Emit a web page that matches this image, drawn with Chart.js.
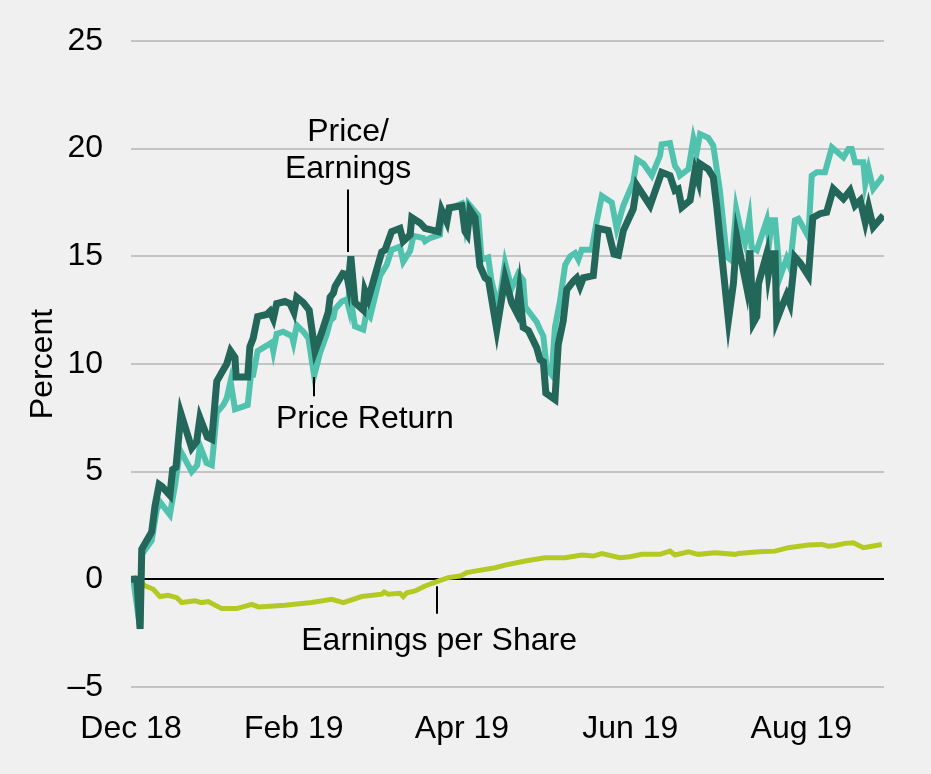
<!DOCTYPE html>
<html>
<head>
<meta charset="utf-8">
<script src="https://cdn.jsdelivr.net/npm/chart.js"></script>
<style>
  html, body { margin: 0; padding: 0; background: #f0f0f0; overflow: hidden; }
</style>
</head>
<body>
<canvas id="chart" width="931" height="774"></canvas>
<script>
// x values are calendar days since 31 Dec 2018
const peDays = [0, 2.1, 3.3, 3.9, 5.7, 7.5, 8.7, 10.2, 11.3, 14.1, 15.1, 16.3, 18.1, 22.0, 23.8, 25.0, 27.7, 29.3, 31.1, 32.9, 34.7, 36.1, 37.7, 38.1, 42.3, 43.1, 44.3, 45.9, 49.2, 50.4, 51.6, 52.8, 55.8, 57.7, 59.1, 60.1, 62.5, 64.6, 66.7, 69.1, 71.5, 72.2, 73.4, 74.0, 76.8, 78.2, 78.8, 79.7, 81.2, 84.2, 84.8, 86.0, 89.1, 90.9, 92.1, 94.5, 97.5, 98.7, 101.2, 101.8, 104.8, 106.6, 111.4, 112.6, 114.5, 115.4, 119.9, 121.1, 121.9, 122.9, 124.7, 126.5, 128.4, 129.6, 132.6, 135.6, 138.0, 139.8, 140.8, 142.2, 144.1, 147.1, 148.3, 149.5, 150.4, 153.7, 154.9, 156.7, 158.0, 160.4, 161.6, 162.8, 164.0, 167.6, 169.4, 173.0, 175.1, 176.7, 178.5, 182.1, 183.4, 188.2, 192.4, 195.4, 197.2, 198.4, 199.7, 202.7, 204.5, 205.7, 206.3, 209.3, 211.1, 212.4, 216.6, 218.4, 219.6, 223.2, 224.4, 225.6, 226.9, 227.5, 230.5, 231.1, 232.3, 233.5, 234.1, 235.9, 237.7, 238.9, 240.7, 242.6, 245.6, 247.2, 249.8, 252.2, 254.6, 258.3, 260.7, 262.5, 264.4, 266.2, 267.4, 269.1, 272.8];
const peValues = [0, 0, -2.3, 1.4, 1.8, 2.2, 3.4, 4.4, 4.3, 3.9, 5.1, 5.2, 7.7, 6.1, 6.4, 7.5, 6.6, 6.5, 9.2, 9.6, 10.0, 10.6, 10.3, 9.4, 9.4, 10.8, 11.2, 12.2, 12.3, 12.45, 12.1, 12.8, 12.9, 12.8, 12.4, 13.1, 12.85, 12.5, 10.6, 11.45, 12.4, 13.1, 13.3, 13.6, 14.2, 14.15, 13.75, 15.0, 12.85, 12.5, 13.4, 13.0, 14.4, 15.2, 15.3, 16.15, 16.3, 15.7, 16.0, 16.8, 16.55, 16.3, 16.15, 17.15, 16.6, 17.25, 17.35, 16.15, 16.0, 17.15, 16.8, 14.55, 14.0, 13.9, 11.6, 14.0, 12.85, 12.4, 13.4, 11.7, 11.55, 10.75, 10.2, 10.1, 8.65, 8.35, 10.9, 12.0, 13.45, 13.85, 14.0, 13.6, 14.0, 14.1, 16.3, 16.2, 15.1, 15.05, 16.2, 17.2, 18.3, 17.36, 18.9, 18.75, 18.06, 18.13, 17.28, 17.6, 19.0, 18.5, 19.3, 19.05, 18.67, 17.28, 12.04, 13.73, 15.9, 13.58, 15.28, 11.9, 12.2, 13.73, 15.12, 14.2, 15.12, 15.12, 12.04, 12.65, 13.2, 12.8, 14.97, 14.7, 14.1, 16.8, 16.98, 17.05, 18.13, 17.67, 18.06, 17.36, 17.6, 16.59, 17.28, 16.36, 16.9];

const prDays = [0.7, 3.3, 3.9, 7.5, 9.3, 10.5, 14.1, 16.0, 17.8, 22.0, 24.0, 25.0, 27.4, 29.3, 31.1, 33.5, 34.7, 36.1, 37.7, 42.3, 43.5, 44.3, 45.9, 49.2, 51.0, 51.6, 52.8, 55.2, 58.3, 58.9, 60.1, 62.5, 64.3, 66.4, 68.5, 71.0, 72.2, 73.4, 74.0, 76.4, 78.2, 78.8, 79.1, 81.2, 84.2, 85.4, 86.7, 90.3, 92.7, 94.5, 97.5, 98.7, 101.2, 102.4, 106.0, 106.6, 108.4, 112.0, 112.6, 116.2, 119.9, 121.1, 122.3, 125.9, 127.1, 129.5, 130.7, 133.2, 135.6, 138.0, 140.4, 142.2, 142.9, 147.1, 148.3, 149.5, 150.7, 152.5, 153.7, 155.5, 157.4, 159.2, 161.0, 162.2, 163.4, 167.0, 168.8, 170.7, 174.3, 176.1, 178.5, 182.1, 183.4, 185.8, 188.8, 191.8, 192.4, 195.4, 197.2, 198.4, 199.0, 202.1, 203.9, 205.1, 206.3, 209.3, 211.1, 213.5, 216.0, 217.8, 219.4, 220.8, 222.6, 224.2, 225.0, 226.9, 230.5, 231.4, 232.3, 233.5, 235.3, 237.7, 238.9, 240.7, 242.0, 245.6, 246.8, 248.6, 251.6, 254.1, 258.3, 260.1, 261.3, 262.5, 265.5, 266.2, 267.4, 269.1, 272.8];
const prValues = [0.1, -2.3, 1.15, 1.8, 3.2, 3.6, 3.0, 4.4, 6.0, 5.0, 5.3, 6.2, 5.4, 5.3, 7.75, 8.1, 8.4, 9.2, 7.9, 8.1, 9.5, 9.5, 10.6, 10.85, 11.0, 10.6, 11.4, 11.5, 11.3, 11.0, 11.8, 11.5, 11.2, 9.45, 10.5, 11.4, 12.0, 12.15, 12.55, 12.9, 13.0, 12.7, 13.5, 11.75, 11.6, 12.4, 12.2, 14.1, 14.6, 15.3, 15.45, 14.75, 15.25, 15.95, 15.85, 15.7, 15.85, 16.0, 16.9, 17.25, 17.45, 16.45, 17.45, 16.9, 14.85, 14.95, 13.85, 12.6, 14.7, 13.5, 14.2, 13.9, 12.65, 11.95, 11.6, 11.3, 9.8, 9.5, 11.7, 12.9, 14.6, 15.0, 15.15, 14.85, 15.3, 15.3, 16.6, 17.8, 17.5, 16.28, 17.36, 18.44, 19.5, 19.3, 18.75, 19.68, 20.2, 20.26, 19.2, 18.98, 18.75, 19.05, 20.45, 19.83, 20.68, 20.5, 20.14, 18.06, 14.97, 14.8, 17.2, 16.36, 15.6, 16.75, 15.43, 15.28, 16.67, 15.66, 16.67, 16.67, 14.04, 14.9, 14.5, 16.67, 16.74, 15.9, 18.75, 18.9, 18.9, 20.06, 19.6, 19.99, 19.99, 19.37, 19.37, 18.37, 19.06, 18.13, 18.75];

const epsDays = [0, 1.5, 5.1, 8.1, 10.5, 13.5, 16.6, 18.4, 23.2, 25.6, 28.0, 32.9, 38.3, 43.8, 46.2, 55.8, 65.5, 72.8, 77.0, 83.6, 90.9, 91.8, 93.3, 97.5, 98.7, 100.0, 103.0, 106.6, 111.4, 115.0, 119.3, 121.7, 124.7, 132.0, 135.6, 142.9, 150.1, 157.4, 163.4, 167.6, 170.7, 177.3, 180.9, 185.2, 191.8, 195.4, 197.2, 202.1, 205.7, 211.7, 219.0, 220.2, 227.5, 233.5, 238.3, 245.6, 250.4, 252.8, 255.3, 258.9, 261.9, 265.5, 268.6, 272.2];
const epsValues = [0, 0.08, -0.3, -0.46, -0.8, -0.74, -0.85, -1.08, -1.0, -1.08, -1.03, -1.36, -1.36, -1.16, -1.28, -1.2, -1.08, -0.93, -1.08, -0.8, -0.69, -0.59, -0.69, -0.65, -0.8, -0.62, -0.54, -0.31, -0.08, 0.08, 0.15, 0.31, 0.38, 0.54, 0.66, 0.85, 1.0, 1.0, 1.13, 1.08, 1.2, 1.0, 1.05, 1.16, 1.16, 1.31, 1.13, 1.28, 1.16, 1.23, 1.16, 1.2, 1.28, 1.31, 1.47, 1.59, 1.62, 1.54, 1.57, 1.67, 1.7, 1.47, 1.54, 1.62];

const tickDays = [0, 59, 120, 181, 243];
const tickLabels = ["Dec 18", "Feb 19", "Apr 19", "Jun 19", "Aug 19"];

// labels with leader lines (x in days, y in percent)
const notes = [
  { lines: ["Price/", "Earnings"], x: 78.7, y: 20.37, lineX: 78.7, from: 18.1, to: 15.2 },
  { lines: ["Price Return"], x: 84.8, y: 7.04, lineX: 66.4, from: 9.4, to: 8.5 },
  { lines: ["Earnings per Share"], x: 111.7, y: -3.29, lineX: 111, from: -0.32, to: -1.6 }
];

const FONT = "'Liberation Sans', Arial, sans-serif";
Chart.defaults.font.family = FONT;
Chart.defaults.font.size = 32;
Chart.defaults.color = "#000";

function pts(xs, ys) {
  return xs.map((x, i) => ({ x: x, y: ys[i] }));
}

const notesPlugin = {
  id: "notes",
  afterDatasetsDraw(chart) {
    const ctx = chart.ctx;
    const xs = chart.scales.x, ys = chart.scales.y;
    ctx.save();
    ctx.strokeStyle = "#000";
    ctx.lineWidth = 2;
    ctx.fillStyle = "#000";
    ctx.font = "32px " + FONT;
    ctx.textAlign = "center";
    ctx.textBaseline = "alphabetic";
    notes.forEach(n => {
      const lx = Math.round(xs.getPixelForValue(n.lineX));
      ctx.beginPath();
      ctx.moveTo(lx, ys.getPixelForValue(n.from));
      ctx.lineTo(lx, ys.getPixelForValue(n.to));
      ctx.stroke();
      const tx = xs.getPixelForValue(n.x);
      let ty = ys.getPixelForValue(n.y);
      n.lines.forEach(t => {
        ctx.fillText(t, tx, ty);
        ty += 37;
      });
    });
    ctx.restore();
  }
};

new Chart(document.getElementById("chart"), {
  type: "line",
  data: {
    datasets: [
      { label: "Price/Earnings", data: pts(peDays, peValues), borderColor: "#23665a", borderWidth: 7, pointRadius: 0, tension: 0, fill: false },
      { label: "Price Return", data: pts(prDays, prValues), borderColor: "#50c2ae", borderWidth: 6, pointRadius: 0, tension: 0, fill: false },
      { label: "Earnings per Share", data: pts(epsDays, epsValues), borderColor: "#b4c924", borderWidth: 5, pointRadius: 0, tension: 0, fill: false }
    ]
  },
  options: {
    responsive: false,
    animation: false,
    layout: { padding: { top: 41, right: 47, left: 0, bottom: 0 } },
    plugins: {
      legend: { display: false },
      tooltip: { enabled: false }
    },
    scales: {
      x: {
        type: "linear",
        min: 0,
        max: 273,
        afterBuildTicks: (scale) => { scale.ticks = tickDays.map(v => ({ value: v })); },
        afterFit: (scale) => { scale.height = 87; scale.paddingLeft = 0; scale.paddingRight = 0; },
        ticks: {
          padding: 23,
          maxRotation: 0,
          autoSkip: false,
          callback: (v) => tickLabels[tickDays.indexOf(v)]
        },
        grid: { display: false, drawTicks: false },
        border: { display: false }
      },
      y: {
        min: -5,
        max: 25,
        afterFit: (scale) => { scale.width = 131; scale.paddingTop = 0; scale.paddingBottom = 0; },
        ticks: {
          stepSize: 5,
          padding: 28,
          callback: (v) => v < 0 ? "\u2013" + Math.abs(v) : String(v)
        },
        grid: {
          drawTicks: false,
          lineWidth: 2,
          color: (c) => c.tick && c.tick.value === 0 ? "#000" : "#c4c4c4"
        },
        border: { display: false },
        title: { display: true, text: "Percent", padding: { top: 24, bottom: 0 } }
      }
    }
  },
  plugins: [notesPlugin]
});
</script>
</body>
</html>
